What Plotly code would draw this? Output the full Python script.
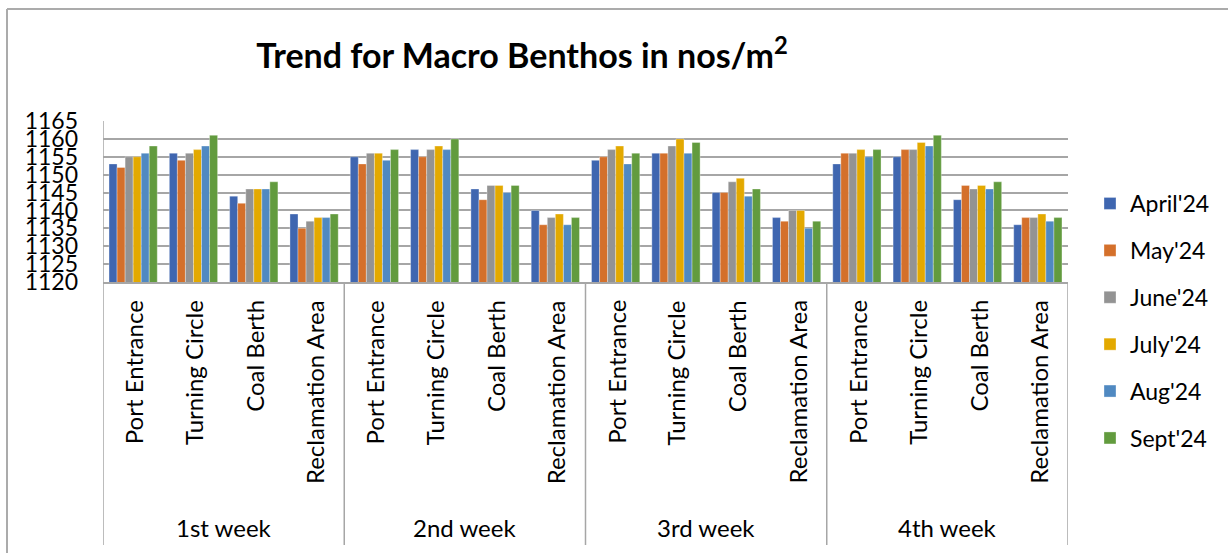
import plotly.graph_objects as go

# Sampling sites and weeks
weeks = ["1st week", "2nd week", "3rd week", "4th week"]
locations = ["Port Entrance", "Turning Circle", "Coal Berth", "Reclamation Area"]

months = ["April'24", "May'24", "June'24", "July'24", "Aug'24", "Sept'24"]

# Macro benthos counts (nos/m2), ordered week by week, site by site
april = [1153, 1156, 1144, 1139, 1155, 1157, 1146, 1140,
         1154, 1156, 1145, 1138, 1153, 1155, 1143, 1136]
may = [1152, 1154, 1142, 1135, 1153, 1155, 1143, 1136,
       1155, 1156, 1145, 1137, 1156, 1157, 1147, 1138]
june = [1155, 1156, 1146, 1137, 1156, 1157, 1147, 1138,
        1157, 1158, 1148, 1140, 1156, 1157, 1146, 1138]
july = [1155, 1157, 1146, 1138, 1156, 1158, 1147, 1139,
        1158, 1160, 1149, 1140, 1157, 1159, 1147, 1139]
aug = [1156, 1158, 1146, 1138, 1154, 1157, 1145, 1136,
       1153, 1156, 1144, 1135, 1155, 1158, 1146, 1137]
sept = [1158, 1161, 1148, 1139, 1157, 1160, 1147, 1138,
        1156, 1159, 1146, 1137, 1157, 1161, 1148, 1138]

y_ticks = [1120, 1125, 1130, 1135, 1140, 1145, 1150, 1155, 1160, 1165]

series = [april, may, june, july, aug, sept]
colors = ["#3F66B0", "#D4702B", "#939393", "#E3A900", "#5089C1", "#629B3E"]

FONT = "Lato"

# One slot per (week, site) pair on a numeric axis
n_loc = len(locations)
slots = list(range(len(weeks) * n_loc))

fig = go.Figure()
for name, vals, col in zip(months, series, colors):
    fig.add_trace(go.Bar(
        x=slots, y=vals, name=name, legendgroup=name,
        marker=dict(color=col, line=dict(color="rgba(255,255,255,0.55)", width=0.6)),
    ))

# Plot-area geometry in pixels
W, H = 1228, 553
L, R, T, B = 103, 1068, 121, 282
pw, ph = R - L, B - T


def px_x(p):
    return (p - L) / pw


def px_y(p):
    return (B - p) / ph


shapes = []
line_style = dict(color="#A6A6A6", width=1.5)
bottom = px_y(545)
# Left axis line continuing down through the category area
shapes.append(dict(type="line", xref="x", yref="paper", x0=-0.5, x1=-0.5,
                   y0=1, y1=bottom, line=line_style))
# Week dividers
for w in range(1, len(weeks) + 1):
    xd = w * n_loc - 0.5
    shapes.append(dict(type="line", xref="x", yref="paper", x0=xd, x1=xd,
                       y0=0, y1=bottom, line=line_style))
# Outer chart frame (top and left edges)
shapes.append(dict(type="line", xref="paper", yref="paper",
                   x0=px_x(7), x1=px_x(W + 5), y0=px_y(9), y1=px_y(9),
                   line=dict(color="#ABABAB", width=2)))
shapes.append(dict(type="line", xref="paper", yref="paper",
                   x0=px_x(7), x1=px_x(7), y0=px_y(9), y1=px_y(H + 5),
                   line=dict(color="#ABABAB", width=2)))

annotations = []
# Site labels, rotated
for w in range(len(weeks)):
    for i, loc in enumerate(locations):
        annotations.append(dict(
            x=w * n_loc + i, xref="x", y=px_y(298), yref="paper",
            text=loc, textangle=-90, showarrow=False,
            xanchor="center", yanchor="top",
            font=dict(family=FONT, size=24, color="#000000"),
        ))
    # Week labels
    annotations.append(dict(
        x=w * n_loc + (n_loc - 1) / 2, xref="x", y=px_y(527), yref="paper",
        text=weeks[w], showarrow=False, xanchor="center", yanchor="middle",
        font=dict(family=FONT, size=24, color="#000000"),
    ))

fig.update_layout(
    width=W, height=H,
    margin=dict(l=L, r=W - R, t=T, b=H - B),
    paper_bgcolor="white", plot_bgcolor="white",
    title=dict(text="Trend for Macro Benthos in nos/m<sup>2</sup>",
               x=px_x(522), xref="paper", xanchor="center",
               y=1 - 56 / H, yref="container", yanchor="middle",
               font=dict(family=FONT, size=34, color="#000000", weight="bold")),
    barmode="group", bargap=0.2, bargroupgap=0,
    xaxis=dict(range=[-0.5, len(slots) - 0.5], showticklabels=False,
               showgrid=False, zeroline=False, ticks="",
               showline=True, linecolor="#A6A6A6", linewidth=1.5),
    yaxis=dict(range=[1120, 1165], tickvals=y_ticks,
               showgrid=True, gridcolor="#A6A6A6", gridwidth=1.5,
               zeroline=False, showline=False, ticks="",
               ticklabelstandoff=24,
               tickfont=dict(family=FONT, size=23, color="#000000")),
    legend=dict(x=px_x(1090), y=px_y(182), xanchor="left", yanchor="top",
                font=dict(family=FONT, size=23, color="#000000"),
                tracegroupgap=14, maxheight=420, bgcolor="rgba(0,0,0,0)"),
    shapes=shapes,
    annotations=annotations,
    showlegend=True,
)

fig.write_html("out.html")
